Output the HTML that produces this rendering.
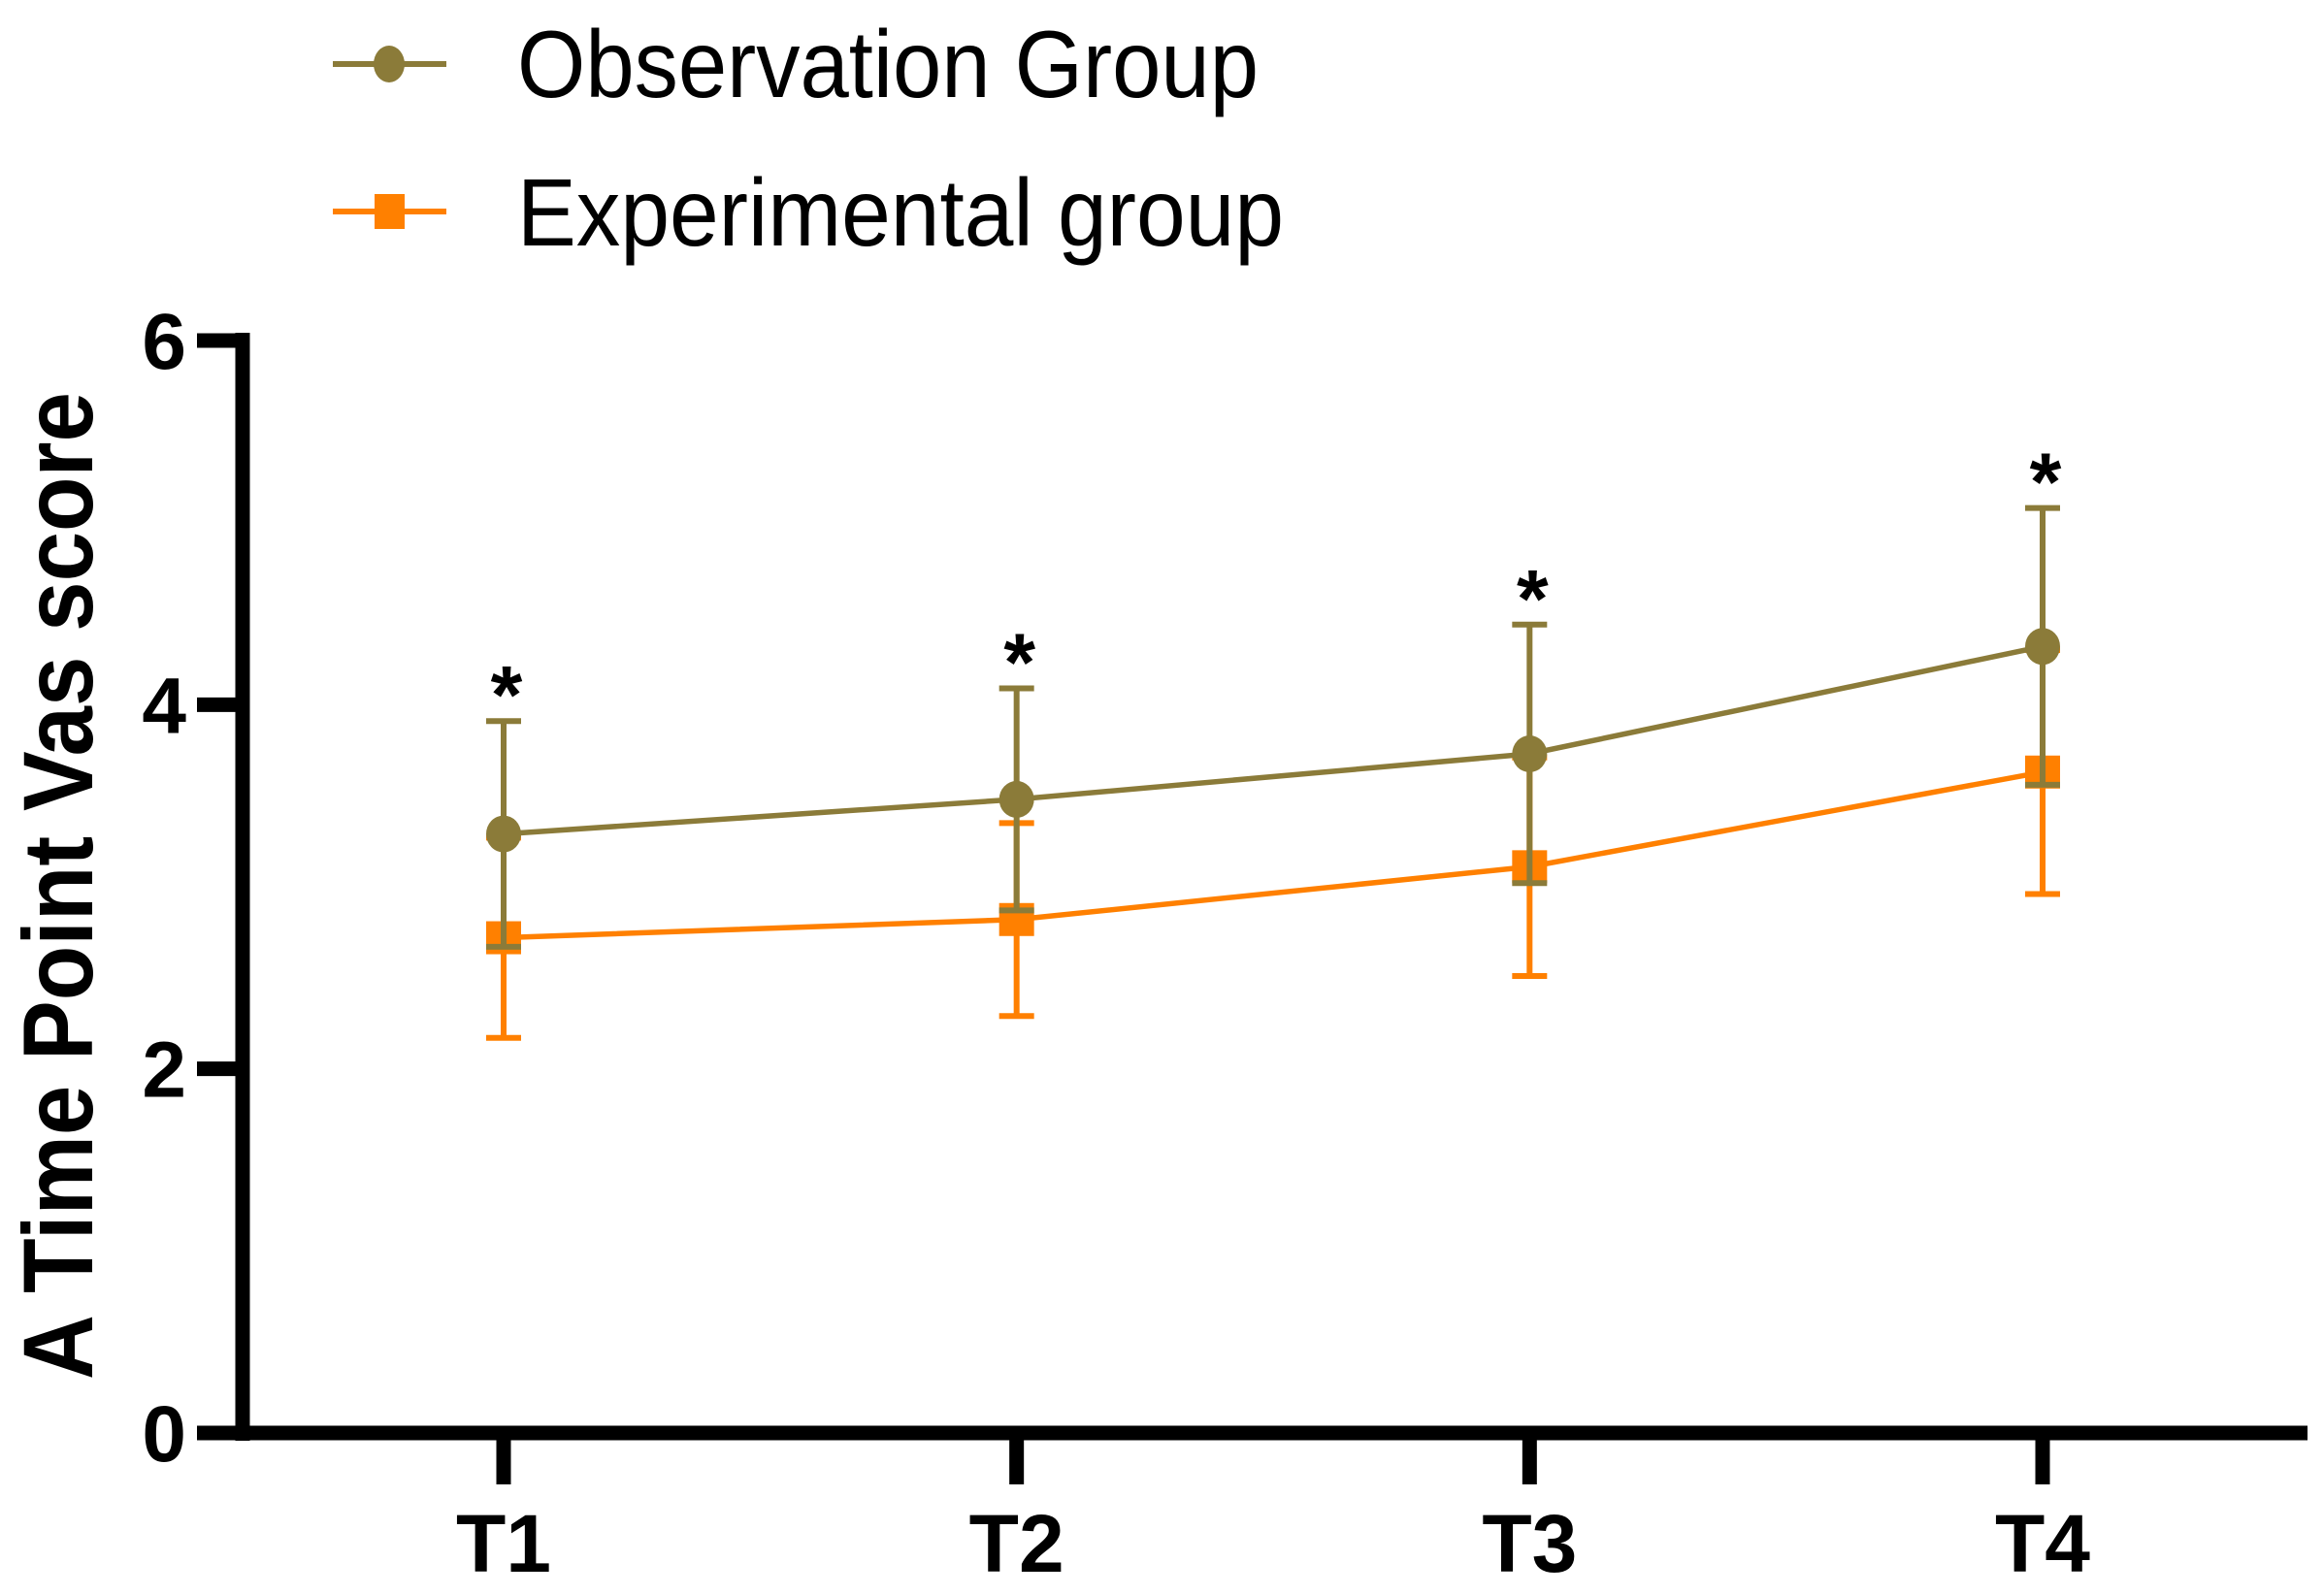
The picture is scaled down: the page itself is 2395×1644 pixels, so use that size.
<!DOCTYPE html>
<html><head><meta charset="utf-8"><style>
html,body{margin:0;padding:0;background:#fff;}
svg{display:block;}
text{font-family:"Liberation Sans",Arial,sans-serif;}
</style></head><body>
<svg id="chart" width="2395" height="1644" viewBox="0 0 2395 1644" xmlns="http://www.w3.org/2000/svg">
<g>
 <g>
  <line x1="343" y1="66" x2="460" y2="66" stroke="#8B7B39" stroke-width="6"/>
  <ellipse cx="401" cy="66" rx="16" ry="19" fill="#8B7B39"/>
  <text x="533" y="100" font-size="98" textLength="764" lengthAdjust="spacingAndGlyphs" fill="#000">Observation Group</text>
 </g>
 <g>
  <line x1="343" y1="218" x2="460" y2="218" stroke="#FF8000" stroke-width="6"/>
  <rect x="386" y="200" width="31" height="36" fill="#FF8000"/>
  <text x="533" y="253" font-size="98" textLength="790" lengthAdjust="spacingAndGlyphs" fill="#000">Experimental group</text>
 </g>
</g>
<text transform="translate(95,1422) rotate(-90)" font-size="102" font-weight="bold" textLength="1018" lengthAdjust="spacingAndGlyphs" fill="#000">A Time Point Vas score</text>
<g id="axes"></g>
<g id="marks"></g>
</svg>
<script>
const categories = ["T1","T2","T3","T4"];
const obsMean = [3.29, 3.48, 3.73, 4.32];
const obsSD = [0.62, 0.61, 0.71, 0.76];
const expMean = [2.72, 2.82, 3.11, 3.63];
const expSD = [0.55, 0.53, 0.60, 0.67];
const yTicks = [0, 2, 4, 6];
const sigMarks = ["*","*","*","*"];

const NS = "http://www.w3.org/2000/svg";
const X0 = 250, XR = 2378, Y0 = 1477, Y6 = 351;
const catX = [519, 1046, 1576, 2105];
function xs(i){ return catX[0] + i * (catX[3]-catX[0])/(categories.length-1); }
function ys(v){ return Y0 - v * (Y0 - Y6) / 6; }
function el(tag, attrs, parent){ const e=document.createElementNS(NS,tag); for(const k in attrs) e.setAttribute(k,attrs[k]); parent.appendChild(e); return e; }
const axes = document.getElementById('axes');
const marks = document.getElementById('marks');

let a = el('line',{x1:X0,y1:Y6-8,x2:X0,y2:Y0+8,stroke:'#000','stroke-width':15},axes);


a = el('line',{x1:X0-8,y1:Y0,x2:XR,y2:Y0,stroke:'#000','stroke-width':15},axes);


yTicks.forEach(v=>{
  const t = el('line',{x1:203,y1:ys(v),x2:X0,y2:ys(v),stroke:'#000','stroke-width':15},axes);
  
  
  const l = el('text',{x:192,y:ys(v)+29,'font-size':82,'font-weight':'bold','text-anchor':'end'},axes);
  l.textContent = v;
  
  
});
categories.forEach((c,i)=>{
  const t = el('line',{x1:xs(i),y1:Y0,x2:xs(i),y2:Y0+53,stroke:'#000','stroke-width':15},axes);
  
  
  const l = el('text',{x:xs(i),y:1620,'font-size':84,'font-weight':'bold','text-anchor':'middle'},axes);
  l.textContent = c;
  
  
});

function series(mean, sd, color, name, marker){
  const g = el('g',{},marks);
  
  
  mean.forEach((m,i)=>{
    const eb = el('g',{stroke:color,'stroke-width':6},g);
    
    
    el('line',{x1:xs(i),y1:ys(m-sd[i]),x2:xs(i),y2:ys(m+sd[i])},eb);
    el('line',{x1:xs(i)-18,y1:ys(m-sd[i]),x2:xs(i)+18,y2:ys(m-sd[i])},eb);
    el('line',{x1:xs(i)-18,y1:ys(m+sd[i]),x2:xs(i)+18,y2:ys(m+sd[i])},eb);
  });
  const pts = mean.map((m,i)=>xs(i)+','+ys(m)).join(' ');
  const pl = el('polyline',{points:pts,fill:'none',stroke:color,'stroke-width':5.5},g);
  
  
  mean.forEach((m,i)=>{
    let p;
    if(marker==='circle') p = el('ellipse',{cx:xs(i),cy:ys(m),rx:18,ry:19,fill:color},g);
    else p = el('rect',{x:xs(i)-18,y:ys(m)-17,width:36,height:34,fill:color},g);
    
    
  });
}
series(expMean, expSD, '#FF8000', 'experimental', 'square');
series(obsMean, obsSD, '#8B7B39', 'observation', 'circle');
sigMarks.forEach((s,i)=>{
  const hi = Math.max(obsMean[i]+obsSD[i], expMean[i]+expSD[i]);
  const t = el('text',{x:xs(i)+3,y:ys(hi)+2,'font-size':84,'font-weight':'bold','text-anchor':'middle'},marks);
  t.textContent = s;
  
  
});
</script>
</body></html>
